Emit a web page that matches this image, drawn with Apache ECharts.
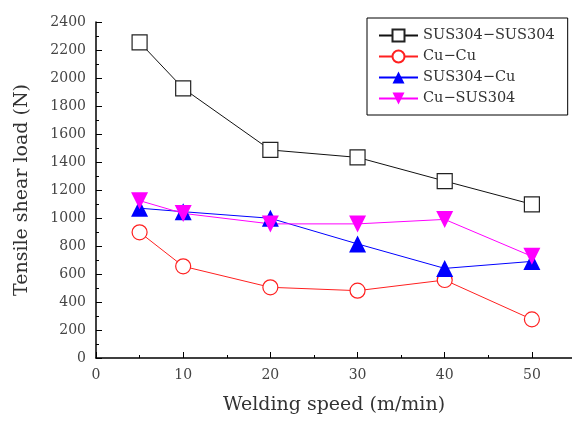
<!DOCTYPE html>
<html><head><meta charset="utf-8">
<script src="https://cdn.jsdelivr.net/npm/echarts@6/dist/echarts.min.js"></script>
<style>html,body{margin:0;padding:0;background:#fff}#c{width:572px;height:423px}</style>
</head><body><div id="c"></div>
<script>
const speeds = [5, 10, 20, 30, 40, 50];
const susSus = [2255, 1926, 1486, 1433, 1264, 1098];
const cuCu = [898, 655, 505, 481, 557, 276];
const susCu = [1070, 1045, 998, 815, 640, 690];
const cuSus = [1124, 1033, 958, 958, 990, 726];
const names = ['SUS304\u2212SUS304', 'Cu\u2212Cu', 'SUS304\u2212Cu', 'Cu\u2212SUS304'];

const font = 'DejaVu Serif';
const pair = (ys) => speeds.map((x, i) => [x, ys[i]]);
const chart = echarts.init(document.getElementById('c'));
chart.setOption({
  animation: false,
  textStyle: {fontFamily: font},
  grid: {left: 96, right: 0, top: 22, bottom: 65},
  legend: {
    orient: 'vertical', left: 367, top: 18,
    borderColor: '#000', borderWidth: 1, padding: [10, 13, 9, 11],
    itemWidth: 39, itemHeight: 15, itemGap: 6,
    textStyle: {fontFamily: font, fontSize: 14.5, color: '#333'},
    data: names
  },
  xAxis: {
    type: 'value', min: 0, max: 54.6, interval: 10,
    name: 'Welding speed (m/min)', nameLocation: 'middle', nameGap: 38,
    nameTextStyle: {fontFamily: font, fontSize: 19, color: '#333'},
    axisLine: {lineStyle: {color: '#000', width: 1.5}},
    axisTick: {inside: true, length: 6, lineStyle: {color: '#000'}},
    minorTick: {show: true, splitNumber: 2, length: 3, lineStyle: {color: '#000'}},
    splitLine: {show: false},
    axisLabel: {fontFamily: font, fontSize: 14, color: '#444', margin: 10, showMaxLabel: false,
      formatter: v => (v % 10 === 0 && v <= 50) ? String(v) : ''}
  },
  yAxis: {
    type: 'value', min: 0, max: 2400, interval: 200,
    name: 'Tensile shear load (N)', nameLocation: 'middle', nameGap: 64,
    nameTextStyle: {fontFamily: font, fontSize: 19, color: '#333'},
    axisLine: {show: true, lineStyle: {color: '#000', width: 1.5}},
    axisTick: {show: true, inside: true, length: 6, lineStyle: {color: '#000'}},
    minorTick: {show: true, splitNumber: 2, length: 3, lineStyle: {color: '#000'}},
    splitLine: {show: false},
    axisLabel: {fontFamily: font, fontSize: 14, color: '#444', margin: 10, formatter: v => String(v)}
  },
  series: [
    {name: names[0], type: 'line', data: pair(susSus), symbol: 'rect', symbolSize: 15,
      lineStyle: {color: '#111', width: 1}, itemStyle: {color: '#fff', borderColor: '#222', borderWidth: 1.2}},
    {name: names[1], type: 'line', data: pair(cuCu), symbol: 'circle', symbolSize: 15,
      lineStyle: {color: '#ff2020', width: 1}, itemStyle: {color: '#fff', borderColor: '#ff2020', borderWidth: 1.2}},
    {name: names[2], type: 'line', data: pair(susCu), symbol: 'triangle', symbolSize: 17,
      lineStyle: {color: '#0000ff', width: 1}, itemStyle: {color: '#0000ff'}},
    {name: names[3], type: 'line', data: pair(cuSus), symbol: 'triangle', symbolRotate: 180, symbolSize: 17,
      lineStyle: {color: '#ff00ff', width: 1}, itemStyle: {color: '#ff00ff'}}
  ]
});
</script></body></html>
